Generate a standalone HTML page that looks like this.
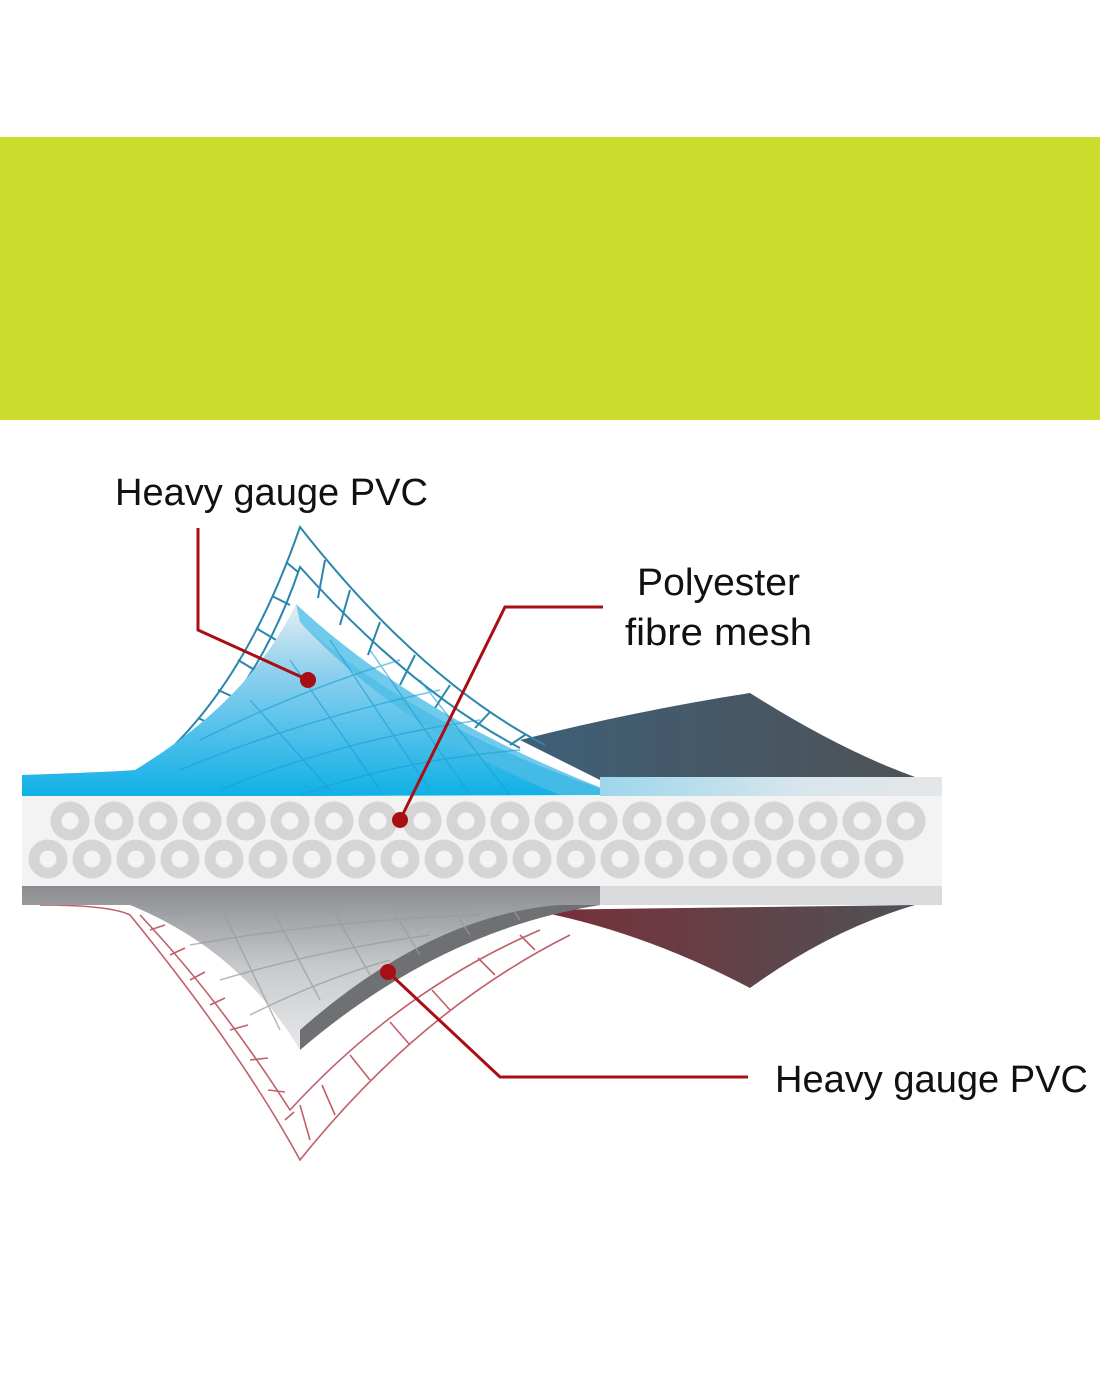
<!DOCTYPE html>
<html><head><meta charset="utf-8"><style>
html,body{margin:0;padding:0;background:#fff;}
svg{display:block;}
text{font-family:"Liberation Sans",sans-serif;fill:#111;}
</style></head><body>
<svg width="1100" height="1375" viewBox="0 0 1100 1375" xmlns="http://www.w3.org/2000/svg">
<defs>
<linearGradient id="blue" x1="0" y1="0" x2="0" y2="1">
<stop offset="0" stop-color="#e6eef2"/><stop offset="0.35" stop-color="#8fd0ee"/><stop offset="1" stop-color="#0fb0e6"/>
</linearGradient>
<linearGradient id="dark" x1="0" y1="0" x2="1" y2="0">
<stop offset="0" stop-color="#3e5f78"/><stop offset="1" stop-color="#4e5256"/>
</linearGradient>
<linearGradient id="red" x1="0" y1="0" x2="1" y2="0">
<stop offset="0" stop-color="#7a2e38"/><stop offset="1" stop-color="#4e5256"/>
</linearGradient>
<linearGradient id="gray" x1="0" y1="0" x2="0" y2="1">
<stop offset="0" stop-color="#8a8c90"/><stop offset="0.5" stop-color="#c8cacc"/><stop offset="1" stop-color="#e8e9ea"/>
</linearGradient>
<linearGradient id="strip" x1="0" y1="0" x2="1" y2="0">
<stop offset="0" stop-color="#9dd6ec"/><stop offset="0.6" stop-color="#d9e6ec"/><stop offset="1" stop-color="#e4e6e8"/>
</linearGradient>
</defs>
<rect x="0" y="137" width="1100" height="283" fill="#cbdc2c"/>

<!-- top dark shape -->
<path d="M520 740 Q640 710 750 693 Q840 750 915 777 L620 790 Z" fill="url(#dark)"/>
<!-- blue mesh outline -->
<g fill="none" stroke="#2a86ad" stroke-width="2">
<path d="M140 775 Q240 700 300 527 Q420 680 545 745"/>
<path d="M165 770 Q255 700 300 567 Q410 690 520 748"/>
<path d="M160 762 L180 768 M180 742 L200 750 M198 718 L220 728 M218 690 L240 700 M238 660 L258 672 M256 628 L276 640 M272 596 L290 605 M286 562 L298 572"/>
<path d="M325 560 L318 598 M350 590 L340 625 M380 622 L368 655 M415 655 L400 685 M450 685 L435 708 M490 712 L475 728 M525 735 L510 745"/>
</g>
<!-- blue sheet -->
<path d="M22 775 Q110 772 135 770 Q250 700 296 604 L300 622 Q420 730 620 795 L22 797 Z" fill="url(#blue)"/>
<path d="M296 604 Q420 720 620 795 L560 795 Q400 730 300 622 Z" fill="#4cbde6" opacity="0.8"/>
<g stroke="#1a9fd4" stroke-width="1.5" fill="none" opacity="0.6">
<path d="M200 740 Q300 690 400 660 M180 770 Q300 720 440 690 M220 790 Q340 740 480 720 M300 795 Q400 760 520 750"/>
<path d="M250 700 L330 790 M290 660 L380 790 M330 640 L430 790 M370 650 L470 795 M420 680 L510 795"/>
</g>
<rect x="600" y="777" width="342" height="19" fill="url(#strip)"/>

<!-- middle band -->
<rect x="22" y="796" width="920" height="90" fill="#f3f3f3"/>
<g fill="none" stroke="#d5d5d5" stroke-width="11">
<circle cx="70" cy="821" r="14"/><circle cx="114" cy="821" r="14"/><circle cx="158" cy="821" r="14"/><circle cx="202" cy="821" r="14"/><circle cx="246" cy="821" r="14"/><circle cx="290" cy="821" r="14"/><circle cx="334" cy="821" r="14"/><circle cx="378" cy="821" r="14"/><circle cx="422" cy="821" r="14"/><circle cx="466" cy="821" r="14"/><circle cx="510" cy="821" r="14"/><circle cx="554" cy="821" r="14"/><circle cx="598" cy="821" r="14"/><circle cx="642" cy="821" r="14"/><circle cx="686" cy="821" r="14"/><circle cx="730" cy="821" r="14"/><circle cx="774" cy="821" r="14"/><circle cx="818" cy="821" r="14"/><circle cx="862" cy="821" r="14"/><circle cx="906" cy="821" r="14"/>
<circle cx="48" cy="859" r="14"/><circle cx="92" cy="859" r="14"/><circle cx="136" cy="859" r="14"/><circle cx="180" cy="859" r="14"/><circle cx="224" cy="859" r="14"/><circle cx="268" cy="859" r="14"/><circle cx="312" cy="859" r="14"/><circle cx="356" cy="859" r="14"/><circle cx="400" cy="859" r="14"/><circle cx="444" cy="859" r="14"/><circle cx="488" cy="859" r="14"/><circle cx="532" cy="859" r="14"/><circle cx="576" cy="859" r="14"/><circle cx="620" cy="859" r="14"/><circle cx="664" cy="859" r="14"/><circle cx="708" cy="859" r="14"/><circle cx="752" cy="859" r="14"/><circle cx="796" cy="859" r="14"/><circle cx="840" cy="859" r="14"/><circle cx="884" cy="859" r="14"/>
</g>

<!-- bottom -->
<path d="M530 910 Q640 930 750 988 Q830 930 915 905 Z" fill="url(#red)"/>
<g fill="none" stroke="#c0606a" stroke-width="1.6">
<path d="M40 905 Q110 905 130 915 Q240 1050 300 1160 Q420 1010 570 935"/>
<path d="M140 915 Q220 1000 290 1110 Q400 990 540 930"/>
<path d="M150 930 L165 925 M170 955 L185 948 M190 980 L205 972 M210 1005 L225 998 M230 1030 L248 1025 M250 1060 L268 1058 M268 1090 L285 1092 M285 1120 L294 1112"/>
<path d="M310 1140 L300 1105 M335 1115 L322 1085 M370 1080 L350 1055 M410 1045 L390 1022 M450 1010 L432 990 M495 975 L478 958 M535 950 L520 935"/>
</g>
<rect x="22" y="886" width="920" height="19" fill="#d9dadb"/>
<rect x="22" y="886" width="150" height="19" fill="#7a7c80"/>
<path d="M22 905 L22 886 L600 886 L600 905 Q440 930 300 1050 Q240 950 130 905 Z" fill="url(#gray)"/>
<path d="M600 905 Q440 930 300 1050 L300 1030 Q430 915 560 905 Z" fill="#6e7074"/>
<g stroke="#9a9ca0" stroke-width="1.5" fill="none" opacity="0.7">
<path d="M160 915 Q330 900 540 905 M190 945 Q330 920 480 915 M220 980 Q320 950 430 935 M250 1015 Q320 980 390 960"/>
<path d="M220 905 L280 1030 M270 905 L320 1000 M330 905 L370 975 M390 905 L420 955 M450 905 L470 935 M510 905 L520 920"/>
</g>

<!-- leaders -->
<g fill="none" stroke="#a80f14" stroke-width="3">
<path d="M198 528 L198 630 L308 680"/>
<path d="M603 607 L505 607 L400 820"/>
<path d="M388 972 L500 1077 L748 1077"/>
</g>
<g fill="#a80f14"><circle cx="308" cy="680" r="8"/><circle cx="400" cy="820" r="8"/><circle cx="388" cy="972" r="8"/></g>

<text x="115" y="505" font-size="38" textLength="313" lengthAdjust="spacingAndGlyphs">Heavy gauge PVC</text>
<text x="637" y="595" font-size="38" textLength="163" lengthAdjust="spacingAndGlyphs">Polyester</text>
<text x="625" y="645" font-size="38" textLength="187" lengthAdjust="spacingAndGlyphs">fibre mesh</text>
<text x="775" y="1092" font-size="38" textLength="313" lengthAdjust="spacingAndGlyphs">Heavy gauge PVC</text>
</svg>
</body></html>
